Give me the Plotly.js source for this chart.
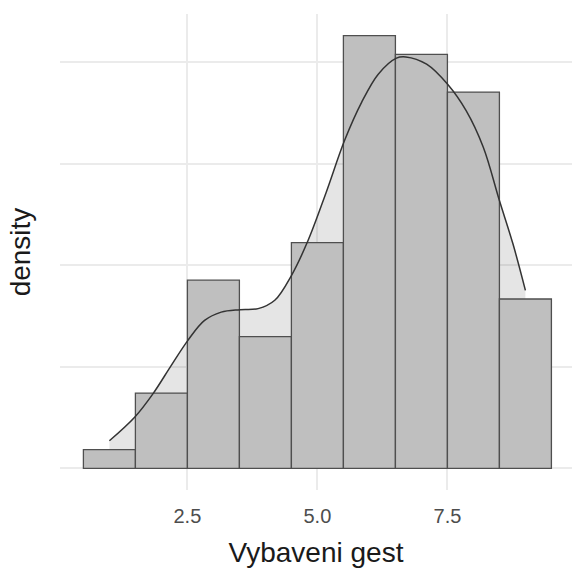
<!DOCTYPE html>
<html>
<head>
<meta charset="utf-8">
<script src="https://cdn.plot.ly/plotly-3.0.1.min.js"></script>
<style>html,body{margin:0;padding:0;background:#fff;}</style>
</head>
<body>
<div id="chart" style="width:572px;height:573px;"></div>
<script>
// Histogram bins (width 1, from 0.5 to 9.5) and counts per bin
const binCenters = [1, 2, 3, 4, 5, 6, 7, 8, 9];
const binCounts = [1, 4, 10, 7, 12, 23, 22, 20, 9];

// Kernel density curve
const densityX = [1.0, 1.49, 1.84, 2.19, 2.51, 2.83, 3.15, 3.51, 3.86, 4.18, 4.5, 4.82, 5.17, 5.52, 5.85, 6.17, 6.52, 6.7, 7.1, 7.5, 7.86, 8.19, 8.5, 8.76, 9.0];
const densityY = [0.0136, 0.0253, 0.0368, 0.0507, 0.0630, 0.0728, 0.0769, 0.0781, 0.0786, 0.0827, 0.0949, 0.1121, 0.1359, 0.1612, 0.1801, 0.1940, 0.2019, 0.2025, 0.1989, 0.1891, 0.1760, 0.1580, 0.1318, 0.1105, 0.0876];

// Axis ticks and titles
const xTickVals = [2.5, 5.0, 7.5];
const xTickText = ['2.5', '5.0', '7.5'];
const yGridVals = [0, 0.05, 0.10, 0.15, 0.20];
const xTitle = 'Vybaveni gest';
const yTitle = 'density';

const xRange = [0.05, 9.896];
const yRange = [-0.01065, 0.2236];
const FONT = 'Liberation Sans, Arial, sans-serif';

const fillTrace = {
  type: 'scatter', mode: 'lines',
  x: densityX, y: densityY,
  fill: 'tozeroy', fillcolor: 'rgba(0,0,0,0.1)',
  line: {width: 0, shape: 'spline', smoothing: 1},
  xaxis: 'x', yaxis: 'y', hoverinfo: 'skip', showlegend: false
};

const histTrace = {
  type: 'histogram',
  x: binCenters, y: binCounts,
  histfunc: 'sum', histnorm: 'probability density',
  xbins: {start: 0.5, end: 9.5, size: 1},
  marker: {color: '#bfbfbf', line: {color: '#4f4f4f', width: 1.3}},
  xaxis: 'x2', yaxis: 'y2', showlegend: false
};

const lineTrace = {
  type: 'scatter', mode: 'lines',
  x: densityX, y: densityY,
  line: {color: '#333333', width: 1.5, shape: 'spline', smoothing: 1},
  xaxis: 'x2', yaxis: 'y2', showlegend: false
};

const layout = {
  width: 572, height: 573,
  margin: {l: 60, r: 0, t: 14, b: 83},
  paper_bgcolor: '#ffffff', plot_bgcolor: '#ffffff',
  showlegend: false,
  bargap: 0,
  font: {family: FONT},
  xaxis: {
    range: xRange, tickmode: 'array', tickvals: xTickVals, ticktext: xTickText,
    showgrid: true, gridcolor: '#ebebeb', gridwidth: 2,
    zeroline: false, showline: false, ticks: '',
    ticklabelstandoff: 12,
    tickfont: {family: FONT, size: 20, color: '#4d4d4d'},
    title: {text: xTitle, font: {family: FONT, size: 28, color: '#1a1a1a'}, standoff: 16},
    automargin: false, fixedrange: true
  },
  yaxis: {
    range: yRange, tickmode: 'array', tickvals: yGridVals,
    showticklabels: false,
    showgrid: true, gridcolor: '#ebebeb', gridwidth: 2,
    zeroline: false, showline: false, ticks: '',
    title: {text: yTitle, font: {family: FONT, size: 28, color: '#1a1a1a'}, standoff: 20},
    automargin: false, fixedrange: true
  },
  xaxis2: {overlaying: 'x', anchor: 'y2', range: xRange, visible: false, fixedrange: true},
  yaxis2: {overlaying: 'y', anchor: 'x2', range: yRange, visible: false, fixedrange: true}
};

Plotly.newPlot('chart', [fillTrace, histTrace, lineTrace], layout, {staticPlot: true, displayModeBar: false});
</script>
</body>
</html>
